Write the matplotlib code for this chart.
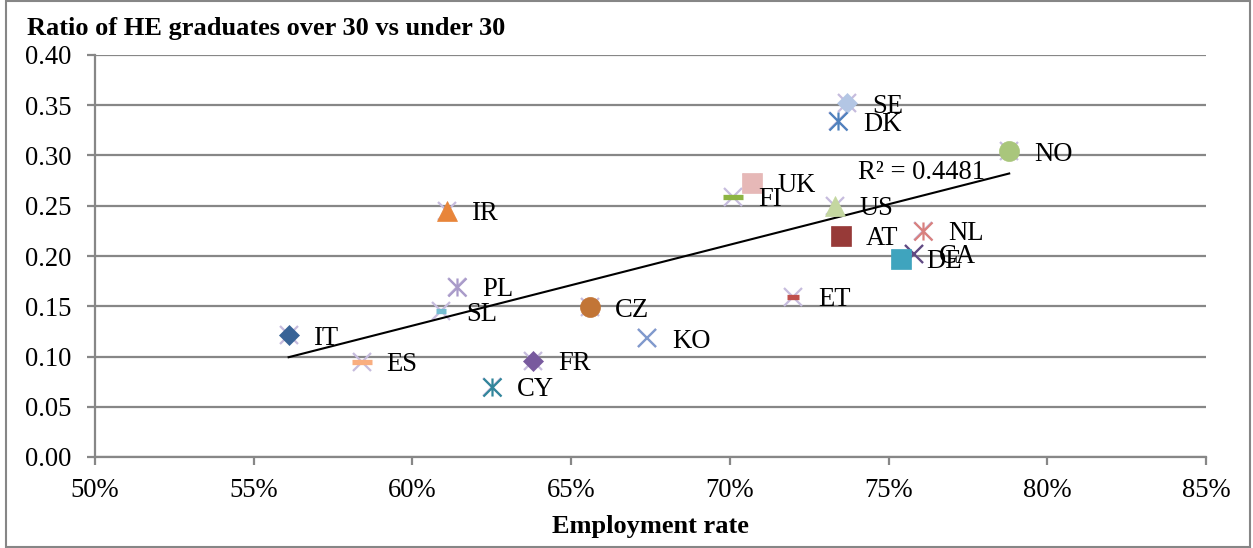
import numpy as np
import matplotlib
matplotlib.use("Agg")
import matplotlib.pyplot as plt
from matplotlib.path import Path
from matplotlib.ticker import PercentFormatter, MultipleLocator

# ---- data -------------------------------------------------------------
countries = ["IT", "ES", "SL", "PL", "IR", "CY", "FR", "CZ", "KO", "FI",
             "UK", "US", "SE", "DK", "AT", "NL", "CA", "DE", "ET", "NO"]
employment = [0.561, 0.584, 0.609, 0.614, 0.611, 0.625, 0.638, 0.656, 0.674, 0.701,
              0.707, 0.733, 0.737, 0.734, 0.735, 0.761, 0.758, 0.754, 0.720, 0.788]
ratio = [0.121, 0.095, 0.145, 0.169, 0.245, 0.070, 0.096, 0.149, 0.118, 0.259,
         0.273, 0.250, 0.352, 0.334, 0.220, 0.225, 0.202, 0.197, 0.159, 0.304]
r2_text = "R² = 0.4481"

# ---- styling ------------------------------------------------------------
SERIF = ["Liberation Serif", "DejaVu Serif"]
plt.rcParams["font.family"] = SERIF
FS = 19.2
FS_BOLD = 19.0

asterisk = Path([(-1, -1), (1, 1), (-1, 1), (1, -1), (0, -1), (0, 1)],
                [Path.MOVETO, Path.LINETO, Path.MOVETO, Path.LINETO, Path.MOVETO, Path.LINETO])

# marker, size, colour, edge width, filled
styles = {
    "IT": ("D", 10.2, "#386496", 0, True),
    "SE": ("D", 10.2, "#B3C6E4", 0, True),
    "FR": ("D", 10.2, "#785A9E", 0, True),
    "IR": ("^", 14.4, "#E8853A", 0, True),
    "US": ("^", 14.4, "#C4D7A0", 0, True),
    "CZ": ("o", 14.4, "#C27536", 0, True),
    "NO": ("o", 14.4, "#A9C67C", 0, True),
    "UK": ("s", 14.4, "#E6B8B7", 0, True),
    "AT": ("s", 14.4, "#973A38", 0, True),
    "DE": ("s", 14.4, "#3FA4BE", 0, True),
    "KO": ("x", 13.0, "#7F9ACD", 1.6, False),
    "CA": ("x", 13.0, "#604A82", 1.6, False),
    "PL": (asterisk, 13.0, "#A99BC9", 1.6, False),
    "DK": (asterisk, 13.0, "#4F81BD", 1.6, False),
    "CY": (asterisk, 13.0, "#31869B", 1.6, False),
    "NL": (asterisk, 13.0, "#D9807E", 1.6, False),
    "FI": ("_", 14.4, "#8DB443", 3.8, False),
    "ES": ("_", 14.4, "#F9AE80", 3.8, False),
    "SL": ("_", 7.5, "#74BCD1", 3.8, False),
    "ET": ("_", 8.0, "#C0504D", 3.8, False),
}

W, H = 1253, 548
fig = plt.figure(figsize=(W / 100, H / 100), dpi=100)
fig.patch.set_facecolor("white")

# outer chart frame
fig.add_artist(plt.Rectangle((6 / W, 1 / H), (W - 9) / W, (H - 2) / H,
                             transform=fig.transFigure, fill=False,
                             edgecolor="#868686", linewidth=1.5))

ax = fig.add_axes([95 / W, (H - 457) / H, (1206 - 95) / W, (457 - 55) / H])
ax.set_xlim(0.50, 0.85)
ax.set_ylim(0.0, 0.40)

GRID = "#878787"
ax.yaxis.set_major_locator(MultipleLocator(0.05))
ax.xaxis.set_major_locator(MultipleLocator(0.05))
ax.xaxis.set_major_formatter(PercentFormatter(1.0, decimals=0))
ax.yaxis.set_major_formatter(lambda v, p: f"{v:.2f}")
ax.grid(axis="y", color=GRID, linewidth=1.6)
ax.set_axisbelow(True)
for s in ("top", "right"):
    ax.spines[s].set_visible(False)
for s in ("left", "bottom"):
    ax.spines[s].set_color(GRID)
    ax.spines[s].set_linewidth(1.6)
ax.tick_params(axis="both", direction="out", length=6, width=1.6, color=GRID,
               labelsize=FS, labelcolor="black")
ax.tick_params(axis="y", pad=11)
ax.tick_params(axis="x", pad=9)

# all points as one light series (carries the trendline)
ax.plot(employment, ratio, linestyle="none", marker="x", markersize=13,
        markeredgewidth=1.6, color="#C6BCDD", zorder=2)

# linear trendline over the full range of the data
coef = np.polyfit(employment, ratio, 1)
xs = np.array([min(employment), max(employment)])
ax.plot(xs, np.polyval(coef, xs), color="black", linewidth=1.5, zorder=3)

for c, x, y in zip(countries, employment, ratio):
    m, ms, col, mew, filled = styles[c]
    if filled:
        ax.plot([x], [y], linestyle="none", marker=m, markersize=ms,
                markerfacecolor=col, markeredgecolor=col, markeredgewidth=0.5, zorder=4)
    else:
        ax.plot([x], [y], linestyle="none", marker=m, markersize=ms,
                color=col, markeredgewidth=mew, zorder=4)
    ax.annotate(c, (x, y), xytext=(18, -2), textcoords="offset points",
                ha="left", va="center", fontsize=FS, zorder=5)

ax.text(0.7404, 0.2826, r2_text, ha="left", va="center", fontsize=FS, zorder=5)

fig.text(27 / W, 1 - 28 / H, "Ratio of HE graduates over 30 vs under 30",
         ha="left", va="center", fontsize=FS_BOLD, fontweight="bold")
fig.text(650 / W, 1 - 527 / H, "Employment rate", ha="center", va="center",
         fontsize=FS_BOLD, fontweight="bold")

fig.savefig("out.png", dpi=100)
